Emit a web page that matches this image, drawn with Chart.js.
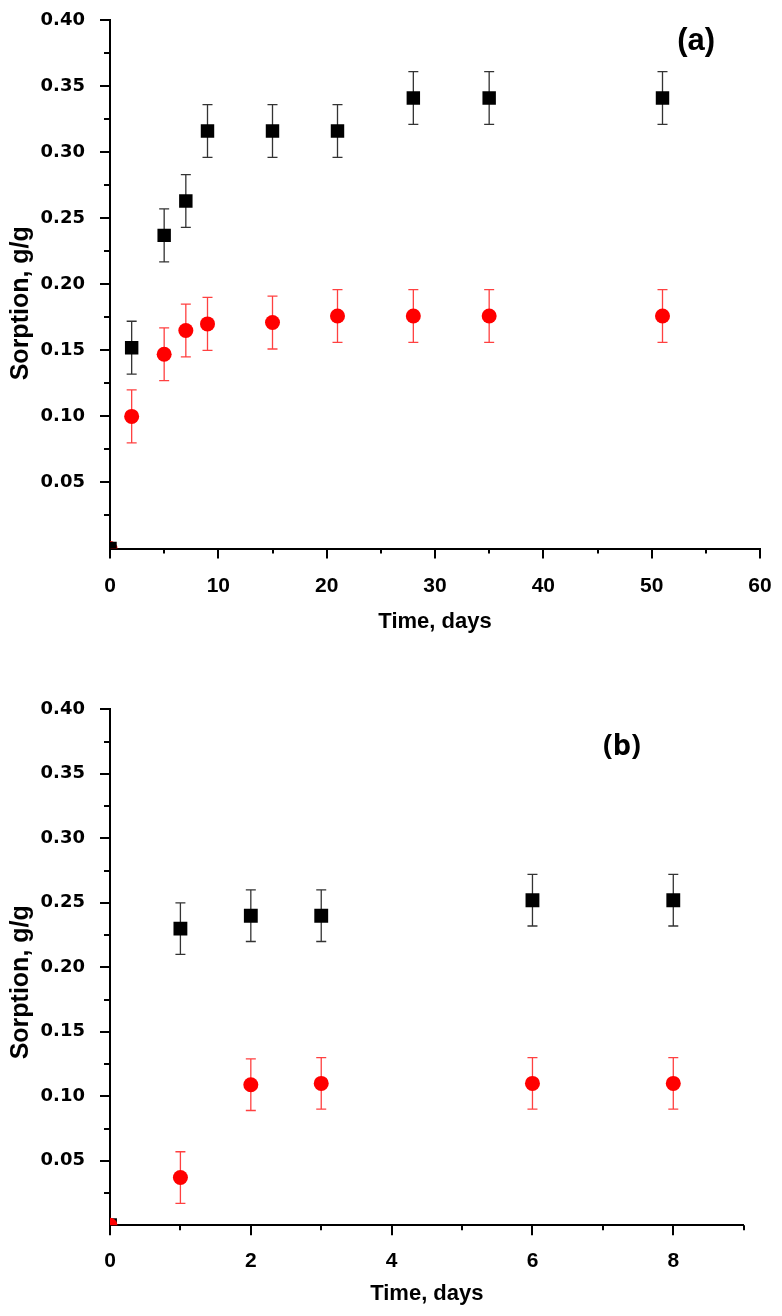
<!DOCTYPE html>
<html>
<head>
<meta charset="utf-8">
<script src="https://cdn.jsdelivr.net/npm/chart.js@4"></script>
<style>
html,body{margin:0;padding:0;background:#fff;}
#wrapA{position:absolute;left:0;top:0;width:782px;height:640px;}
#wrapB{position:absolute;left:0;top:640px;width:782px;height:676px;}
</style>
</head>
<body>
<div id="wrapA"><canvas id="chartA"></canvas></div>
<div id="wrapB"><canvas id="chartB"></canvas></div>
<script>
// panel (a)
const daysA=[0,2,5,7,9,15,21,28,35,51];
const blackA=[0,0.152,0.237,0.263,0.316,0.316,0.316,0.341,0.341,0.341];
const blackErrA=[0,0.02,0.02,0.02,0.02,0.02,0.02,0.02,0.02,0.02];
const redA=[0,0.100,0.147,0.165,0.170,0.171,0.176,0.176,0.176,0.176];
const redErrA=[0,0.02,0.02,0.02,0.02,0.02,0.02,0.02,0.02,0.02];

// panel (b)
const daysB=[0,1,2,3,6,8];
const blackB=[0,0.230,0.240,0.240,0.252,0.252];
const blackErrB=[0,0.02,0.02,0.02,0.02,0.02];
const redB=[0,0.037,0.109,0.110,0.110,0.110];
const redErrB=[0,0.02,0.02,0.02,0.02,0.02];

const xTitle="Time, days";
const yTitle="Sorption, g/g";

function pts(xs,ys){
return xs.map((v,i)=>({x:v,y:ys[i]}));
}

// error bars, tick marks, y title and the panel letter
const extras={
id:"extras",
beforeDatasetsDraw(chart){
const {ctx,scales:{x,y}}=chart;
chart.data.datasets.forEach(ds=>{
ctx.save();
ctx.strokeStyle=ds.errColor;
ctx.lineWidth=1.3;
ctx.beginPath();
ds.data.forEach((p,i)=>{
const e=ds.err[i];
if(!e) return;
const px=x.getPixelForValue(p.x);
const y1=y.getPixelForValue(p.y+e);
const y2=y.getPixelForValue(p.y-e);
ctx.moveTo(px,y1);ctx.lineTo(px,y2);
ctx.moveTo(px-5,y1);ctx.lineTo(px+5,y1);
ctx.moveTo(px-5,y2);ctx.lineTo(px+5,y2);
});
ctx.stroke();
ctx.restore();
});
},
afterDraw(chart,args,opts){
const {ctx,chartArea,scales:{x,y}}=chart;
ctx.save();
ctx.strokeStyle="#000";
ctx.lineWidth=2;
ctx.beginPath();
x.ticks.forEach(t=>{
const px=Math.round(x.getPixelForValue(t.value));
const len=t.label!==""?10:5;
ctx.moveTo(px,chartArea.bottom);ctx.lineTo(px,chartArea.bottom+len);
});
y.ticks.forEach(t=>{
if(t.value===0) return;
const py=Math.round(y.getPixelForValue(t.value));
const len=t.label!==""?10:6;
ctx.moveTo(chartArea.left,py);ctx.lineTo(chartArea.left-len,py);
});
ctx.stroke();
ctx.fillStyle="#000";
ctx.textAlign="center";
ctx.textBaseline="middle";
ctx.font=opts.font;
ctx.fillText(opts.text,x.getPixelForValue(opts.x),y.getPixelForValue(opts.y));
// y axis title
ctx.font='bold 25px "Liberation Sans"';
ctx.translate(21,(chartArea.top+chartArea.bottom)/2+opts.yTitleShift);
ctx.rotate(-Math.PI/2);
ctx.fillText(yTitle,0,0);
ctx.restore();
}
};

function makeChart(id,cfg){
return new Chart(document.getElementById(id),{
type:"scatter",
data:{datasets:cfg.datasets},
plugins:[extras],
options:{
responsive:true,
maintainAspectRatio:false,
animation:false,
layout:{padding:{top:cfg.padTop,right:cfg.padRight,left:0,bottom:0}},
plugins:{
legend:{display:false},
tooltip:{enabled:false},
extras:cfg.label
},
scales:{
x:{
type:"linear",
min:0,
max:cfg.xMax,
afterFit(s){s.height=cfg.xHeight;s.paddingLeft=0;s.paddingRight=0;},
grid:{display:false},
border:{display:true,color:"#000",width:2},
ticks:{
stepSize:cfg.xStep,
autoSkip:false,
maxRotation:0,
padding:cfg.xTickPad,
color:"#000",
font:{family:"Liberation Sans",weight:"bold",size:21},
callback:v=>(Math.round(v)%cfg.xMajor===0)?String(v):""
},
title:{
display:true,
text:xTitle,
color:"#000",
font:{family:"Liberation Sans",weight:"bold",size:22},
padding:{top:0,bottom:cfg.xTitlePad}
}
},
y:{
type:"linear",
min:0,
max:0.4,
afterFit(s){s.width=110;s.paddingTop=0;s.paddingBottom=0;},
grid:{display:false},
border:{display:true,color:"#000",width:2},
ticks:{
stepSize:0.025,
autoSkip:false,
padding:17,
color:"#000",
font:{family:"DejaVu Sans",weight:"bold",size:18},
callback:v=>(v>0.001&&Math.round(v*1000)%50===0)?v.toFixed(2):""
}
}
}
}
});
}

makeChart("chartA",{
datasets:[
{label:"black",data:pts(daysA,blackA),err:blackErrA,errColor:"#333",pointStyle:"rect",pointRadius:9.5,backgroundColor:"#000",borderWidth:0,clip:0},
{label:"red",data:pts(daysA,redA),err:redErrA,errColor:"#ff4040",pointStyle:"circle",pointRadius:7.5,backgroundColor:"#ff0000",borderWidth:0,clip:0}
],
padTop:20,padRight:22,xHeight:91.5,xMax:60,xStep:5,xMajor:10,xTickPad:17,xTitlePad:5,
label:{text:"(a)",x:54.1,y:0.384,font:'bold 31px "Liberation Sans"',yTitleShift:19}
});

makeChart("chartB",{
datasets:[
{label:"red",data:pts(daysB,redB),err:redErrB,errColor:"#ff4040",pointStyle:"circle",pointRadius:7.5,backgroundColor:"#ff0000",borderWidth:0,clip:0},
{label:"black",data:pts(daysB,blackB),err:blackErrB,errColor:"#333",pointStyle:"rect",pointRadius:9.8,backgroundColor:"#000",borderWidth:0,clip:0}
],
padTop:69.3,padRight:38.3,xHeight:90.7,xMax:9,xStep:1,xMajor:2,xTickPad:15,xTitlePad:9,
label:{text:"(b)",x:7.27,y:0.371,font:'bold 29px "Open Sans"',yTitleShift:15}
});
</script>
</body>
</html>
